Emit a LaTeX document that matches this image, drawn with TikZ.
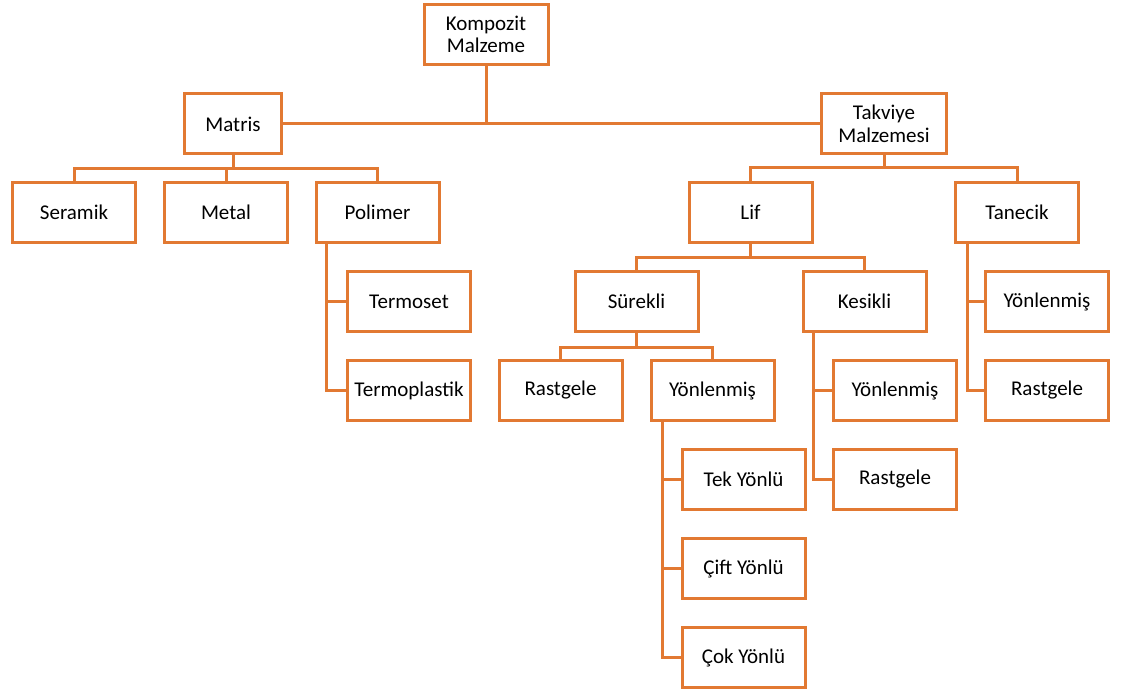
\documentclass[tikz,border=0pt]{standalone}
\usepackage{fontspec}
\setmainfont{Carlito}
\usepackage{xcolor}
\usetikzlibrary{positioning}
\definecolor{turuncu}{RGB}{226,121,50}

\begin{document}
\begin{tikzpicture}[x=1pt,y=-1pt,
    kutu/.style={draw=turuncu,line width=3pt,fill=white,minimum width=123pt,
      minimum height=60pt,align=center,inner sep=2pt,
      font=\fontsize{21}{22.5}\selectfont},
    bag/.style={draw=turuncu,line width=3pt}]
  \useasboundingbox (0,0) rectangle (1129,695);

  % ust seviye
  \node[kutu,minimum width=124pt](komp) at (486,34.5){Kompozit\\Malzeme};
  \node[kutu,minimum width=97pt](matris) at (233,124){Matris};
  \node[kutu,minimum width=125pt](takviye) at (884,124){Takviye\\Malzemesi};

  % matris tarafi
  \node[kutu](seramik) at (74,212.5){Seramik};
  \node[kutu](metal) at (226,212.5){Metal};
  \node[kutu](polimer) at (377.5,212.5){Polimer};
  \node[kutu](termoset) at (409,301.5){Termoset};
  \node[kutu](termoplastik) at (409,390.5){Termoplastik};

  % takviye tarafi
  \node[kutu](lif) at (750.5,212.5){Lif};
  \node[kutu](tanecik) at (1017,212.5){Tanecik};
  \node[kutu](surekli) at (636.5,301.5){Sürekli};
  \node[kutu](kesikli) at (864.5,301.5){Kesikli};
  \node[kutu](t_yon) at (1047,301.5){Yönlenmiş};
  \node[kutu](t_rast) at (1047,390.5){Rastgele};
  \node[kutu](s_rast) at (560.5,390.5){Rastgele};
  \node[kutu](s_yon) at (712.5,390.5){Yönlenmiş};
  \node[kutu](k_yon) at (895,390.5){Yönlenmiş};
  \node[kutu](k_rast) at (895,479.5){Rastgele};
  \node[kutu](tek) at (743.5,479.5){Tek Yönlü};
  \node[kutu](cift) at (743.5,568.5){Çift Yönlü};
  \node[kutu](cok) at (743.5,657.5){Çok Yönlü};

  % baglantilar
  \path[bag]
  (matris.east) -- (takviye.west)
  (komp.south) -- (komp.south |- matris.east);

  \draw[bag] (matris.south) -- ++(0,13) coordinate (mb);
  \draw[bag] (seramik.north) |- (mb) -| (polimer.north);
  \draw[bag] (metal.north) -- (metal.north |- mb);

  \draw[bag] (takviye.south) -- ++(0,12) coordinate (tb);
  \draw[bag] (lif.north) |- (tb) -| (tanecik.north);

  \draw[bag] (lif.south) -- ++(0,13) coordinate (lb);
  \draw[bag] (surekli.north) |- (lb) -| (kesikli.north);

  \draw[bag] (surekli.south) -- ++(0,14) coordinate (sb);
  \draw[bag] (s_rast.north) |- (sb) -| (s_yon.north);

  \draw[bag] ([xshift=12pt]polimer.south west) |- (termoplastik.west);
  \draw[bag] ([xshift=12pt]polimer.south west |- termoset.west) -- (termoset.west);

  \draw[bag] ([xshift=13pt]tanecik.south west) |- (t_rast.west);
  \draw[bag] ([xshift=13pt]tanecik.south west |- t_yon.west) -- (t_yon.west);

  \draw[bag] ([xshift=12pt]kesikli.south west) |- (k_rast.west);
  \draw[bag] ([xshift=12pt]kesikli.south west |- k_yon.west) -- (k_yon.west);

  \draw[bag] ([xshift=13pt]s_yon.south west) |- (cok.west);
  \foreach \n in {tek,cift}
    \draw[bag] ([xshift=13pt]s_yon.south west |- \n.west) -- (\n.west);
\end{tikzpicture}
\end{document}
